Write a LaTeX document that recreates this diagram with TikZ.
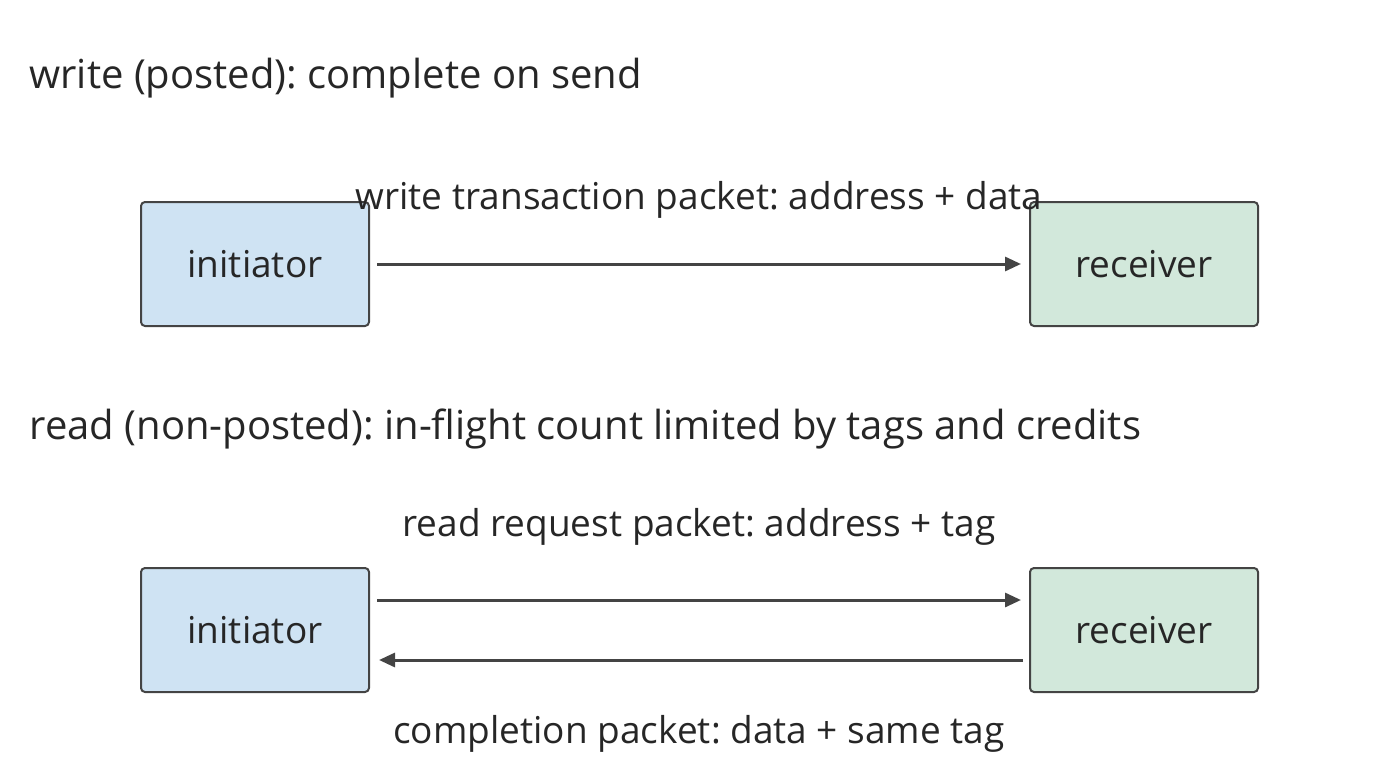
\documentclass[tikz,border=0pt]{standalone}
\usepackage{fontspec}
\setmainfont{Open Sans}
\frenchspacing
\usetikzlibrary{arrows.meta}
\definecolor{bl}{HTML}{CFE3F3}
\definecolor{gr}{HTML}{D2E8DB}
\definecolor{ln}{HTML}{444444}
\begin{document}
\begin{tikzpicture}[x=1pt,y=-1pt,
  box/.style={draw=ln,line width=2pt,rounded corners=4pt,minimum width=228pt,minimum height=124pt,font=\fontsize{37}{44}\selectfont,text=black!85},
  lab/.style={font=\fontsize{37}{44}\selectfont,text=black!85},
  ttl/.style={font=\fontsize{40}{48}\selectfont,text=black!85,anchor=west},
  arr/.style={draw=ln,line width=3pt,-{Triangle[length=16pt,width=14pt]}}]
\useasboundingbox (0,0) rectangle (1400,773);
\node[ttl] (t1) at (26,78) {write (posted): complete on send};
\node[ttl] (t2) at (26,429) {read (non-posted): in-flight count limited by tags and credits};
\node[box,fill=bl] (i1) at (255,264) {initiator};
\node[box,fill=gr] (r1) at (1144,264) {receiver};
\node[box,fill=bl] (i2) at (255,630) {initiator};
\node[box,fill=gr] (r2) at (1144,630) {receiver};
\coordinate (a1) at (377,264); \coordinate (b1) at (1021,264);
\draw[arr] (a1) -- (b1);
\node[lab] (l1) at (699,200) {write transaction packet: address + data};
\coordinate (a2) at (377,600); \coordinate (b2) at (1021,600);
\draw[arr] (a2) -- (b2);
\node[lab] (l2) at (699,527) {read request packet: address + tag};
\coordinate (a3) at (1023,660); \coordinate (b3) at (379,660);
\draw[arr] (a3) -- (b3);
\node[lab] (l3) at (699,734) {completion packet: data + same tag};
\end{tikzpicture}
\end{document}
